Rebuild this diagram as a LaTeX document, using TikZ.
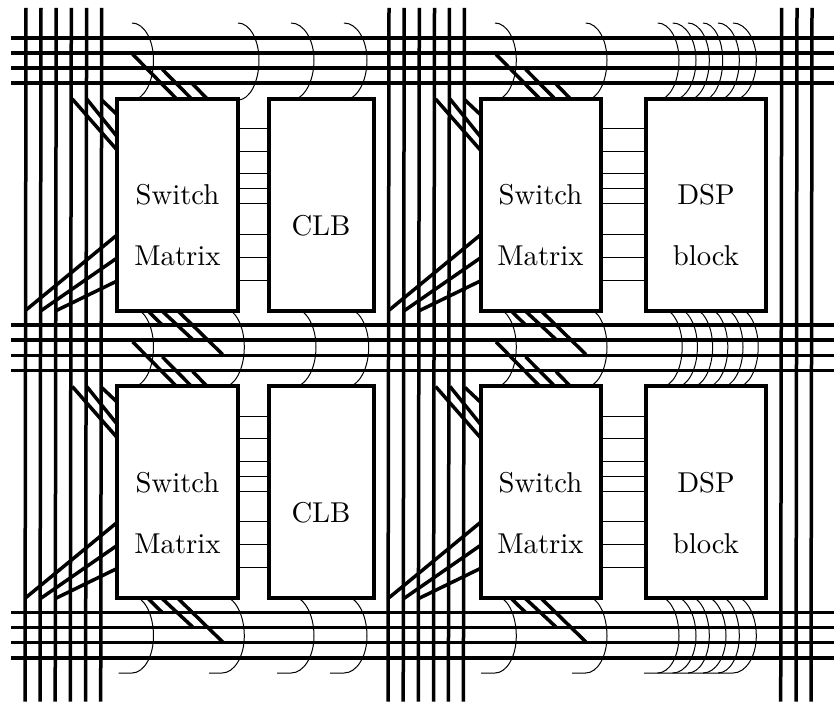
\documentclass[tikz,border=0pt]{standalone}
\begin{document}
\begin{tikzpicture}[x=1pt,y=-1pt,
  bus/.style={line width=3.5pt,black},
  tap/.style={line width=3.5pt,black},
  wire/.style={line width=1pt,black},
  link/.style={line width=1pt,black},
  unit/.style={draw=black,fill=white,line width=4pt,inner sep=0pt,outer sep=0pt,anchor=north west},
  lab/.style={anchor=base,inner sep=0pt}]
\useasboundingbox (0,0) rectangle (834,703);
\newcommand{\lb}[1]{\scalebox{2.87}{#1}}
% half-ellipse wires: x0, apex, y of apex, upper radius, lower radius
\newcommand{\wireh}[5]{\pgfmathsetmacro{\rx}{#2-#1}\draw[wire] (#1,#3-#4) arc[start angle=-90,end angle=0,x radius=\rx,y radius=#4] arc[start angle=0,end angle=90,x radius=\rx,y radius=#5];}
\newcommand{\wiret}[4]{\pgfmathsetmacro{\rx}{#2-#1}\draw[wire] (#4,#3+37) -- (#1,#3+37) arc[start angle=90,end angle=0,x radius=\rx,y radius=37] arc[start angle=0,end angle=-90,x radius=\rx,y radius=40];}
% top row
\foreach \a/\b in {132/153.5,238/259,291/314,344/367,495/516.3,585.7/607,657.7/679,672.7/696,688/709.3,703/722.7,718/739.3,733/756.3}{\wireh{\a}{\b}{60}{37}{40}}
% middle row
\foreach \a/\b in {132/153.5,223/244.3,293/316,346/368.7,495/516.3,585.7/607,660.7/682.2,675.9/697.4,691.1/712.6,706.3/727.8,721.5/743,736.7/758.2}{\wireh{\a}{\b}{347}{39}{40}}
% bottom row with tails
\foreach \a/\b/\t in {132/153.5/118.5,222/244.3/209,291/314/277,344/367/330,495/516.3/481,585.7/607/572,657.7/679/644,672.7/696/657.7,688/709.3/672.7,703/726/688,718/739.3/703,733/756.3/718}{\wiret{\a}{\b}{636}{\t}}
% horizontal buses
\foreach \y in {38,53,68,83,325,340,355.5,370.7,612.3,627.5,642.7,658}{\draw[bus] (11,\y) -- (834,\y);}
% vertical buses
\foreach \x in {26,41,56.2,71.3,86.6,101.7,389,404.2,419.3,434.5,449.4,464.4,781.7,797,812}{\draw[bus] (\x,8) -- (\x-1,701.5);}
% tile furniture
\foreach \dx in {0,363.3}{\foreach \dy in {0,287.5}{
  \draw[tap] (132.7+\dx,54.3+\dy) -- (176.7+\dx,99+\dy);
  \draw[tap] (162.3+\dx,69.3+\dy) -- (191.7+\dx,99+\dy);
  \draw[tap] (192.7+\dx,84+\dy) -- (207.3+\dx,99+\dy);
  \draw[tap] (72.3+\dx,99+\dy) -- (117+\dx,150+\dy);
  \draw[tap] (86.7+\dx,99+\dy) -- (117+\dx,136.5+\dy);
  \draw[tap] (101.7+\dx,100+\dy) -- (117+\dx,114.5+\dy);
  \draw[tap] (26+\dx,310+\dy) -- (117+\dx,235+\dy);
  \draw[tap] (41+\dx,310.7+\dy) -- (117+\dx,258+\dy);
  \draw[tap] (56+\dx,310.7+\dy) -- (117+\dx,281+\dy);
  \draw[tap] (147+\dx,310+\dy) -- (162.3+\dx,325+\dy);
  \draw[tap] (161+\dx,310+\dy) -- (192.7+\dx,339.5+\dy);
  \draw[tap] (177+\dx,310+\dy) -- (222.7+\dx,354.5+\dy);
}}
% units
\node[unit,minimum width=121pt,minimum height=211.5pt] (sa) at (117,99) {};
\node[unit,minimum width=104.5pt,minimum height=211.5pt] (ca) at (269,99) {};
\node[unit,minimum width=120.5pt,minimum height=211.5pt] (sb) at (480.5,99) {};
\node[unit,minimum width=120pt,minimum height=211.5pt] (da) at (646,99) {};
\node[unit,minimum width=121pt,minimum height=211.5pt] (sc) at (117,386) {};
\node[unit,minimum width=104.5pt,minimum height=211.5pt] (cb) at (269,386) {};
\node[unit,minimum width=120.5pt,minimum height=211.5pt] (sd) at (480.5,386) {};
\node[unit,minimum width=120pt,minimum height=211.5pt] (db) at (646,386) {};
% links
\foreach \y in {128.7,151.5,174,189,204,234.7,257.3,280}{
  \draw[link] (sa.east |- 0,\y) -- (ca.west |- 0,\y);
  \draw[link] (sb.east |- 0,\y) -- (da.west |- 0,\y);}
\foreach \y in {416,438.5,461,476,491.5,521.5,544.3,567}{
  \draw[link] (sc.east |- 0,\y) -- (cb.west |- 0,\y);
  \draw[link] (sd.east |- 0,\y) -- (db.west |- 0,\y);}
% labels
\node[lab] (l1) at (177.5,205) {\lb{Switch}};
\node[lab] (l2) at (177.5,265) {\lb{Matrix}};
\node[lab] (l3) at (321,236) {\lb{CLB}};
\node[lab] (l4) at (540.5,205) {\lb{Switch}};
\node[lab] (l5) at (540.5,265) {\lb{Matrix}};
\node[lab] (l6) at (706,205) {\lb{DSP}};
\node[lab] (l7) at (706,265.5) {\lb{block}};
\node[lab] (l8) at (177.5,492.7) {\lb{Switch}};
\node[lab] (l9) at (177.5,553) {\lb{Matrix}};
\node[lab] (l10) at (321,522.7) {\lb{CLB}};
\node[lab] (l11) at (540.5,492.7) {\lb{Switch}};
\node[lab] (l12) at (540.5,553) {\lb{Matrix}};
\node[lab] (l13) at (706,492.7) {\lb{DSP}};
\node[lab] (l14) at (706,553) {\lb{block}};
\end{tikzpicture}
\end{document}
